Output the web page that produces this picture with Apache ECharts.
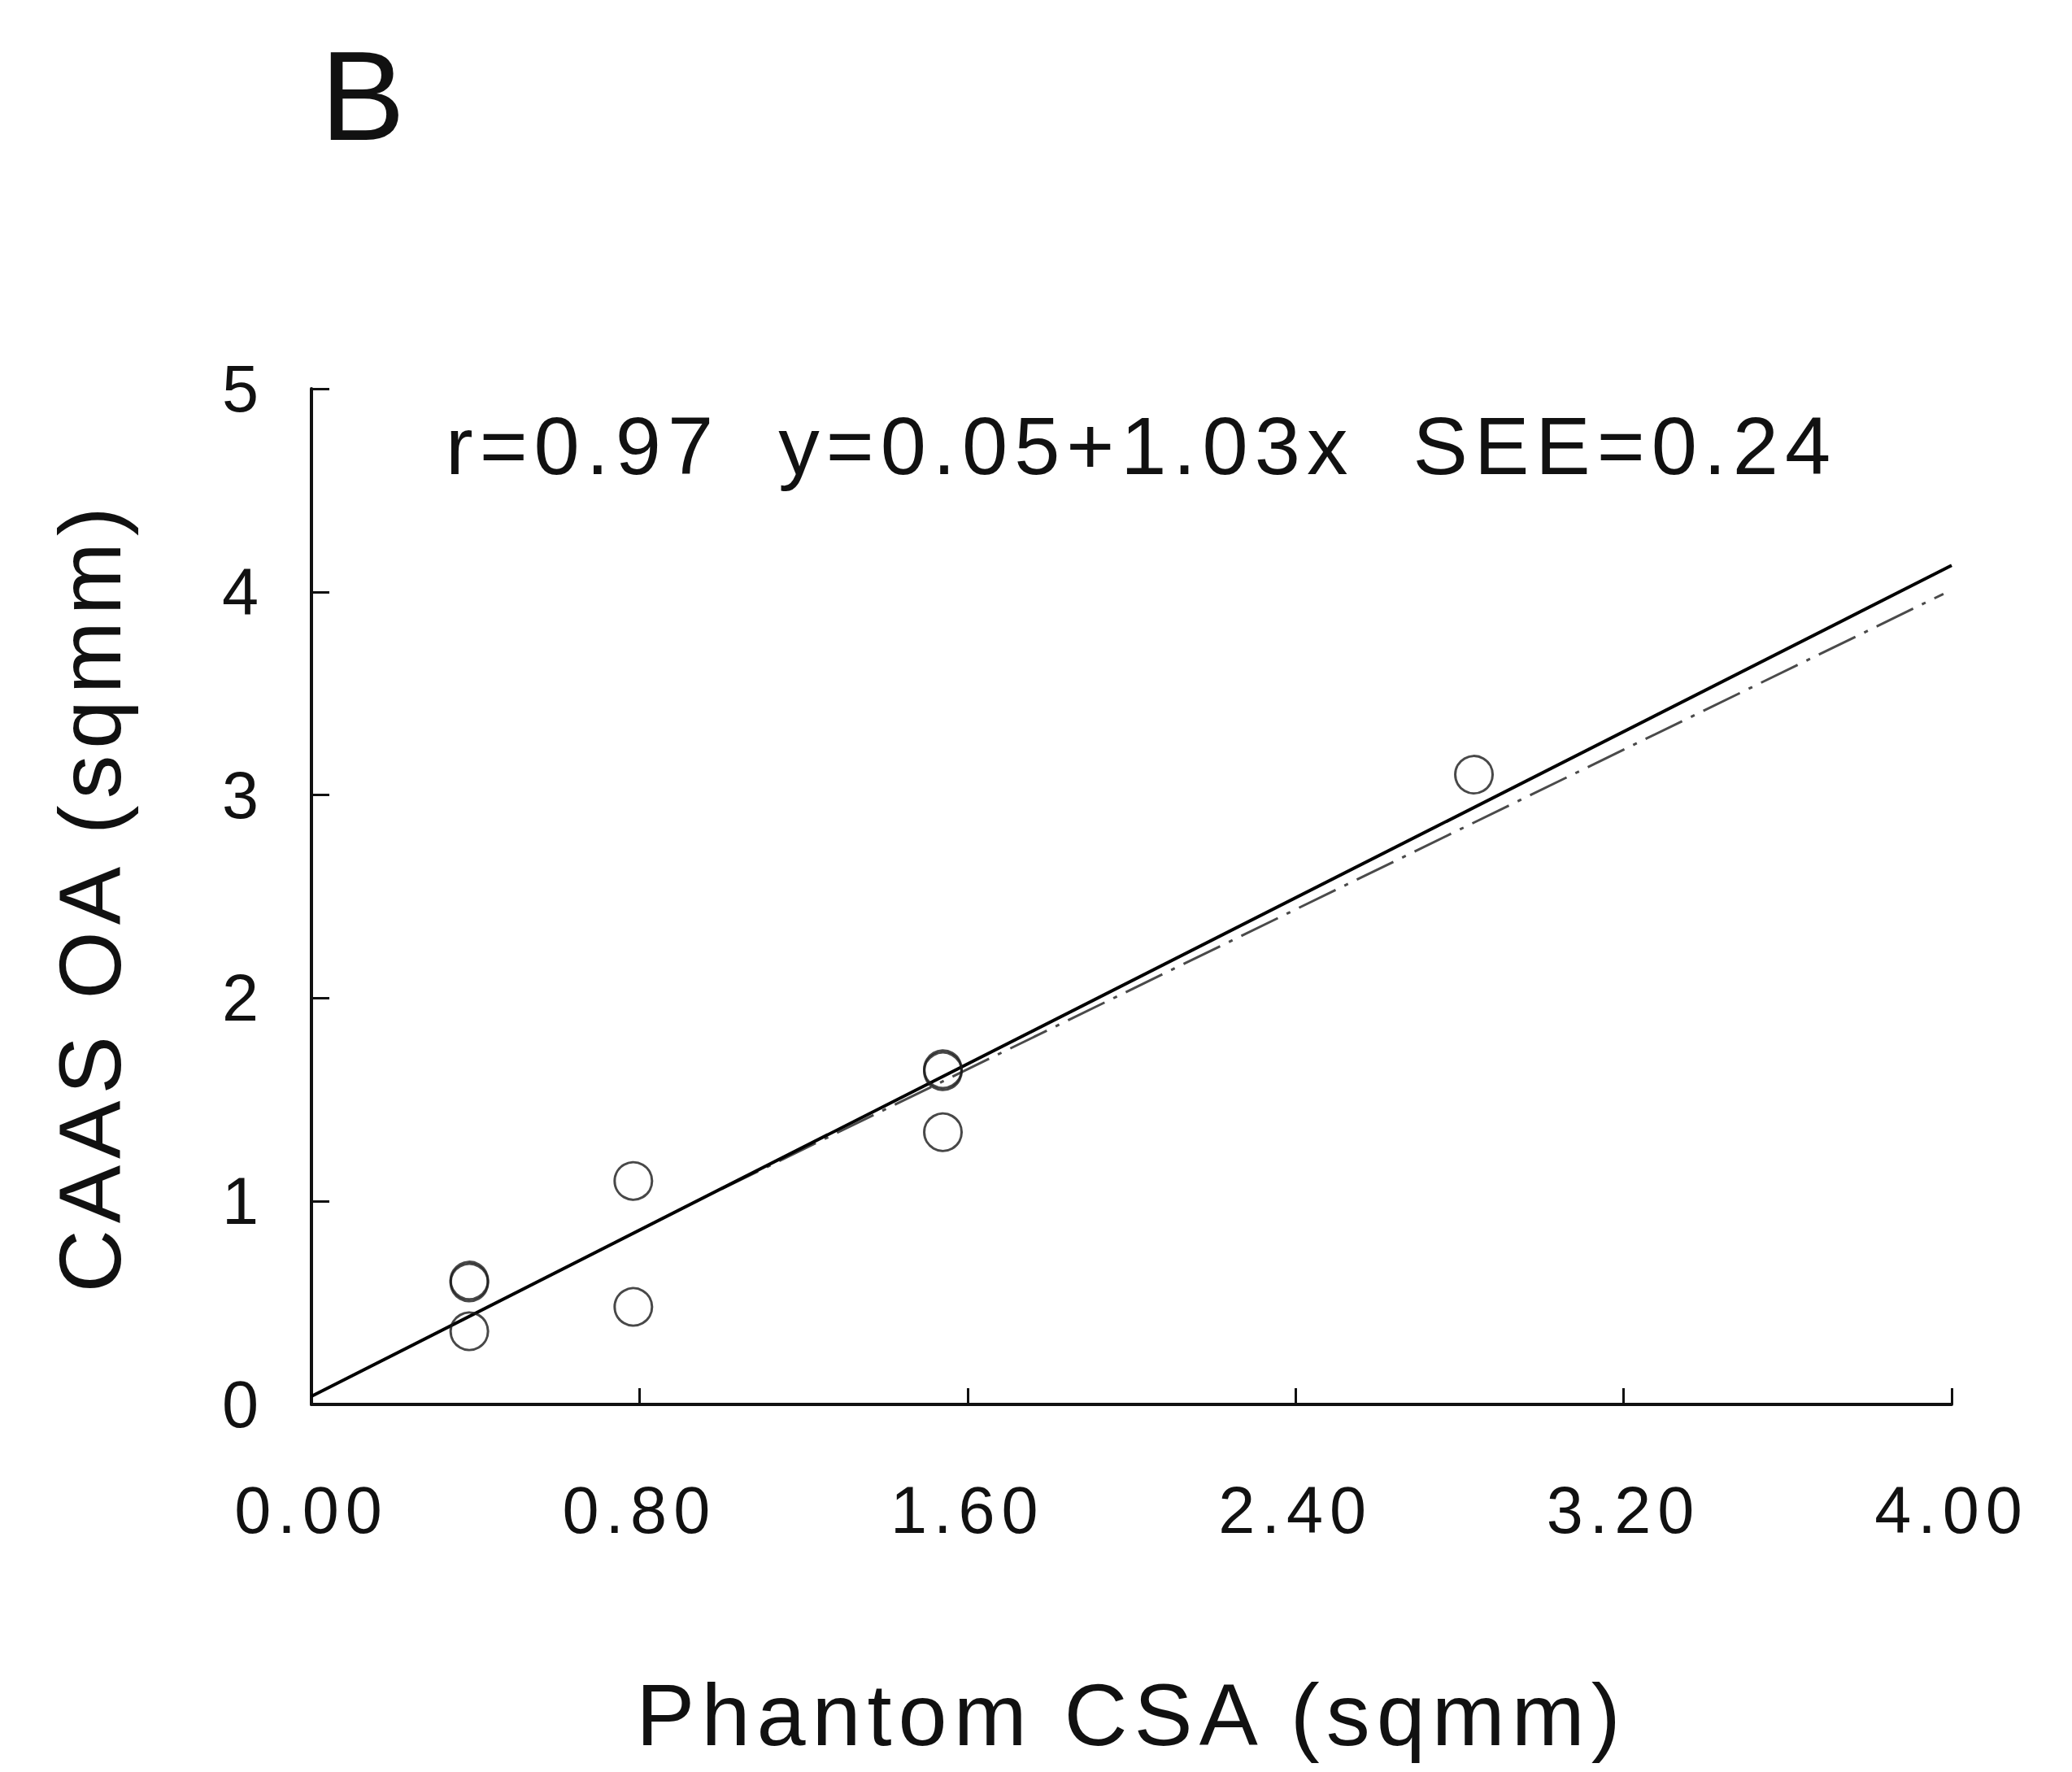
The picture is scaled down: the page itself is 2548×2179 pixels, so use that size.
<!DOCTYPE html>
<html>
<head>
<meta charset="utf-8">
<script src="https://cdn.jsdelivr.net/npm/echarts@6/dist/echarts.min.js"></script>
<style>
  html, body { margin: 0; padding: 0; background: #ffffff; }
  #chart { width: 2548px; height: 2179px; }
  #chart svg text { letter-spacing: 8px; }
</style>
</head>
<body>
<div id="chart"></div>
<script>
// ---- data ----
const phantomCSA = [0.385, 0.385, 0.385, 0.785, 0.785, 1.54, 1.54, 1.54, 2.835];
const caasOA     = [0.60, 0.61, 0.36, 1.10, 0.48, 1.65, 1.64, 1.34, 3.10];

// regression line y = 0.05 + 1.03x (end points as drawn)
const fitX = [0, 4.0];
const fitY = [0.04, 4.13];

// dash-dot reference line (visible part; merges with the fit line below ~1.6)
const identX = [1.0, 3.98];
const identY = [1.06, 3.99];

const xTicks = ['0.00', '0.80', '1.60', '2.40', '3.20', '4.00'];
const yTicks = ['0', '1', '2', '3', '4', '5'];

const panelLabel = 'B';
const statsText = 'r=0.97  y=0.05+1.03x  SEE=0.24';
const xTitle = 'Phantom CSA (sqmm)';
const yTitle = 'CAAS OA (sqmm)';

// ---- build ----
const pairs = (xs, ys) => xs.map((x, i) => [x, ys[i]]);
const FONT = "'Liberation Sans', Arial, Helvetica, sans-serif";
const INK = '#111111';

const chart = echarts.init(document.getElementById('chart'), null, { renderer: 'svg' });

chart.setOption({
  animation: false,
  backgroundColor: '#ffffff',
  title: [
    {
      text: panelLabel,
      left: 394, top: 40, padding: 0,
      textStyle: { fontFamily: FONT, fontSize: 156, fontWeight: 'normal', color: INK }
    },
    {
      text: statsText,
      left: 548, top: 497, padding: 0,
      textStyle: { fontFamily: FONT, fontSize: 101, fontWeight: 'normal', color: INK }
    }
  ],
  grid: { left: 383, right: 148, top: 478, bottom: 452, containLabel: false },
  xAxis: {
    type: 'value', min: 0, max: 4, interval: 0.8,
    name: xTitle, nameLocation: 'middle', nameGap: 327,
    nameTextStyle: { fontFamily: FONT, fontSize: 108, color: INK },
    axisLine: { show: true, onZero: false, lineStyle: { color: INK, width: 4 } },
    axisTick: { show: true, inside: true, length: 20, lineStyle: { color: INK, width: 3 } },
    axisLabel: {
      fontFamily: FONT, fontSize: 81, color: INK, margin: 89,
      formatter: (v) => xTicks[Math.round(v / 0.8)] ?? v.toFixed(2)
    },
    splitLine: { show: false }
  },
  yAxis: {
    type: 'value', min: 0, max: 5, interval: 1,
    name: yTitle, nameLocation: 'middle', nameGap: 219,
    nameTextStyle: { fontFamily: FONT, fontSize: 107, color: INK },
    axisLine: { show: true, onZero: false, lineStyle: { color: INK, width: 4 } },
    axisTick: { show: true, inside: true, length: 22, lineStyle: { color: INK, width: 3 } },
    axisLabel: {
      fontFamily: FONT, fontSize: 81, color: INK, margin: 57,
      formatter: (v) => yTicks[Math.round(v)] ?? String(v)
    },
    splitLine: { show: false }
  },
  series: [
    {
      name: 'identity',
      type: 'line',
      data: pairs(identX, identY),
      showSymbol: false,
      silent: true,
      z: 2,
      lineStyle: { color: '#4a4a4a', width: 3, type: [50, 12, 5, 12] }
    },
    {
      name: 'fit',
      type: 'line',
      data: pairs(fitX, fitY),
      showSymbol: false,
      silent: true,
      z: 3,
      lineStyle: { color: '#000000', width: 4 }
    },
    {
      name: 'points',
      type: 'scatter',
      data: pairs(phantomCSA, caasOA),
      symbol: 'circle',
      symbolSize: 46,
      z: 4,
      itemStyle: { color: 'rgba(0,0,0,0)', borderColor: '#1a1a1a', borderWidth: 3 }
    }
  ]
});
</script>
</body>
</html>
